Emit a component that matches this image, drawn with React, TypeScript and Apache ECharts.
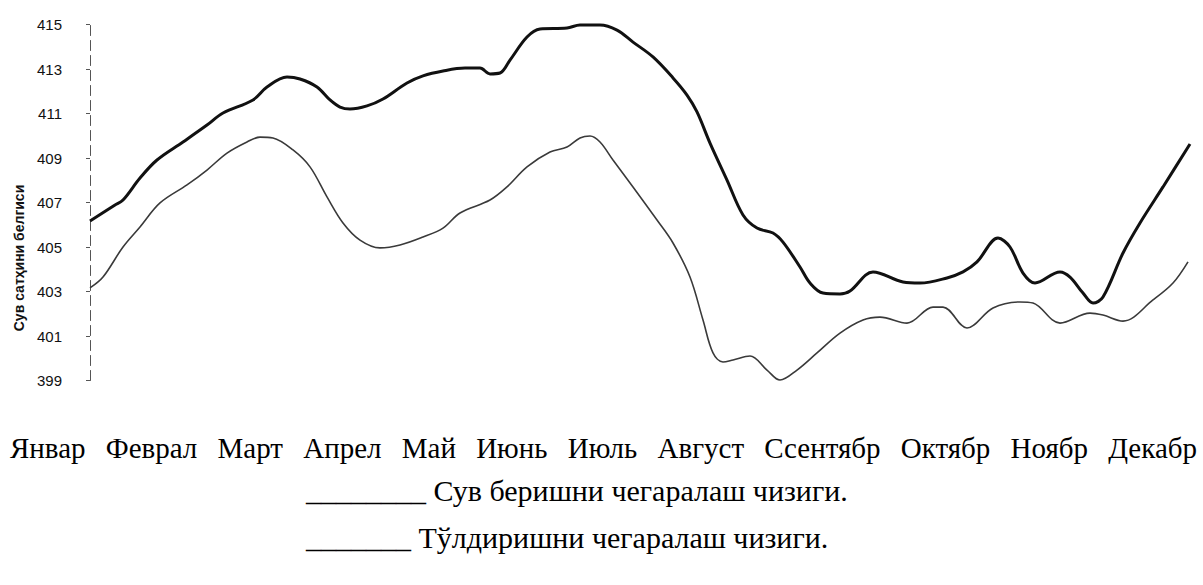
import React, { useEffect, useRef } from "react";
import * as echarts from "echarts";

// Month labels (document text under the chart)
const MONTHS = ["Январ", "Феврал", "Март", "Апрел", "Май", "Июнь", "Июль", "Август", "Ссентябр", "Октябр", "Ноябр", "Декабр"];

// Y axis
const Y_MIN = 399;
const Y_MAX = 415;
const Y_STEP = 2;
const Y_TITLE = "Сув сатҳини белгиси";

// Time position (0 = Январ, 11 = Декабр) and water level
const SUPPLY_T = [0, 0.25, 0.33, 0.5, 0.67, 0.93, 1.17, 1.33, 1.63, 1.77, 1.97, 2.1, 2.27, 2.4, 2.5, 2.6, 2.77, 2.93, 3.17, 3.33, 3.53, 3.75, 3.9, 4.0, 4.1, 4.2, 4.37, 4.5, 4.77, 4.9, 5.1, 5.27, 5.43, 5.63, 5.83, 5.97, 6.07, 6.2, 6.37, 6.53, 6.67, 6.83, 6.93, 7.1, 7.2, 7.33, 7.5, 7.6, 7.83, 8.13, 8.3, 8.57, 8.73, 8.87, 9.08, 9.2, 9.33, 9.45, 9.7, 9.8, 9.93, 10.03, 10.13, 10.33, 10.5, 10.73, 11.0];
const SUPPLY_LEVEL = [406.17, 406.89, 407.11, 408.1, 408.91, 409.72, 410.48, 411.02, 411.61, 412.19, 412.64, 412.55, 412.19, 411.61, 411.29, 411.2, 411.34, 411.65, 412.37, 412.69, 412.91, 413.04, 413.04, 412.78, 412.82, 413.4, 414.44, 414.8, 414.84, 414.98, 414.98, 414.75, 414.21, 413.54, 412.6, 411.83, 411.07, 409.67, 408.01, 406.44, 405.85, 405.63, 405.22, 404.1, 403.38, 402.93, 402.89, 403.02, 403.88, 403.43, 403.38, 403.61, 403.88, 404.33, 405.4, 405.0, 403.83, 403.38, 403.88, 403.65, 402.93, 402.48, 402.75, 404.73, 406.08, 407.7, 409.63];

const FILL_T = [0, 0.13, 0.33, 0.5, 0.7, 0.97, 1.17, 1.37, 1.57, 1.7, 1.83, 2.03, 2.2, 2.37, 2.53, 2.7, 2.9, 3.1, 3.33, 3.53, 3.7, 4.0, 4.17, 4.37, 4.6, 4.77, 4.9, 5.0, 5.1, 5.23, 5.43, 5.67, 5.83, 6.0, 6.13, 6.23, 6.33, 6.43, 6.6, 6.77, 6.9, 7.07, 7.27, 7.5, 7.73, 7.9, 8.17, 8.43, 8.53, 8.77, 9.03, 9.3, 9.43, 9.7, 10.0, 10.13, 10.33, 10.63, 10.83, 10.98];
const FILL_LEVEL = [403.16, 403.65, 405.0, 405.9, 406.98, 407.79, 408.46, 409.22, 409.72, 409.94, 409.9, 409.36, 408.6, 407.25, 406.08, 405.31, 404.96, 405.09, 405.45, 405.85, 406.53, 407.11, 407.7, 408.6, 409.27, 409.49, 409.9, 409.99, 409.72, 408.91, 407.7, 406.21, 405.18, 403.65, 401.72, 400.24, 399.83, 399.92, 400.1, 399.47, 399.02, 399.47, 400.24, 401.13, 401.72, 401.85, 401.58, 402.3, 402.3, 401.36, 402.26, 402.53, 402.48, 401.58, 402.03, 401.94, 401.67, 402.62, 403.38, 404.33];

const LEGEND_LINES = [
  "________ Сув беришни чегаралаш чизиги.",
  "_______ Тўлдиришни чегаралаш чизиги.",
];

const W = 1203;
const H = 585;
const MONTH_FONT = 29;
const SERIF = '"Liberation Serif", "Times New Roman", serif';
const SANS = '"Liberation Sans", Arial, sans-serif';

export default function App() {
  const ref = useRef<HTMLDivElement>(null);
  useEffect(() => {
    if (!ref.current) return;
    const chart = echarts.init(ref.current, undefined, { renderer: "svg" });

    const rowLeft = 10;
    const rowRight = 6;
    const rowWidth = W - rowLeft - rowRight;
    const ctx = document.createElement("canvas").getContext("2d")!;
    ctx.font = `${MONTH_FONT}px ${SERIF}`;
    const widths = MONTHS.map((m) => ctx.measureText(m).width);
    const sum = widths.reduce((a, b) => a + b, 0);
    const gap = (rowWidth - sum) / (MONTHS.length - 1);
    const centers: number[] = [];
    let acc = 0;
    widths.forEach((w) => {
      centers.push(acc + w / 2);
      acc += w + gap;
    });

    const supply = SUPPLY_T.map((t, i) => [t, SUPPLY_LEVEL[i]]);
    const fill = FILL_T.map((t, i) => [t, FILL_LEVEL[i]]);

    chart.setOption({
      animation: false,
      backgroundColor: "#ffffff",
      grid: [
        { left: 90, right: 13, top: 24.5, bottom: 204.5 },
        { left: rowLeft, right: rowRight, top: 430, height: 1 },
      ],
      xAxis: [
        { type: "value", gridIndex: 0, min: 0, max: 11, show: false },
        {
          type: "value",
          gridIndex: 1,
          min: 0,
          max: rowWidth,
          axisLine: { show: false },
          axisTick: { show: false },
          splitLine: { show: false },
          axisLabel: {
            customValues: centers,
            margin: 17,
            verticalAlign: "middle",
            fontFamily: SERIF,
            fontSize: MONTH_FONT,
            color: "#000",
            formatter: (v: number) => {
              let best = 0;
              centers.forEach((c, i) => {
                if (Math.abs(c - v) < Math.abs(centers[best] - v)) best = i;
              });
              return MONTHS[best];
            },
          },
        },
      ],
      yAxis: [
        {
          type: "value",
          gridIndex: 0,
          min: Y_MIN,
          max: Y_MAX,
          interval: Y_STEP,
          offset: 14,
          axisLine: { show: true, lineStyle: { color: "#555", width: 1, type: [10, 5] } },
          axisTick: { show: true, length: 4, lineStyle: { color: "#555" } },
          splitLine: { show: false },
          axisLabel: { margin: 14, fontFamily: SANS, fontSize: 15, color: "#111" },
        },
        { type: "value", gridIndex: 1, show: false },
      ],
      graphic: [
        {
          type: "text",
          x: 19,
          y: 258,
          rotation: Math.PI / 2,
          style: {
            text: Y_TITLE,
            fontFamily: SANS,
            fontWeight: "bold",
            fontSize: 14,
            fill: "#111",
            align: "center",
            verticalAlign: "middle",
          },
        },
        ...LEGEND_LINES.map((t, i) => ({
          type: "text",
          left: 306,
          top: 475 + i * 47,
          style: { text: t, fontFamily: SERIF, fontSize: 30, fill: "#000" },
        })),
      ],
      series: [
        {
          name: "Сув беришни чегаралаш чизиги",
          type: "line",
          xAxisIndex: 0,
          yAxisIndex: 0,
          data: supply,
          smooth: 0.35,
          symbol: "none",
          lineStyle: { color: "#111", width: 3 },
        },
        {
          name: "Тўлдиришни чегаралаш чизиги",
          type: "line",
          xAxisIndex: 0,
          yAxisIndex: 0,
          data: fill,
          smooth: 0.35,
          symbol: "none",
          lineStyle: { color: "#3a3a3a", width: 1.6 },
        },
      ],
    });
    return () => chart.dispose();
  }, []);
  return (
    <div
      ref={ref}
      style={{ position: "fixed", left: 0, top: 0, width: W, height: H, background: "#fff" }}
    />
  );
}
